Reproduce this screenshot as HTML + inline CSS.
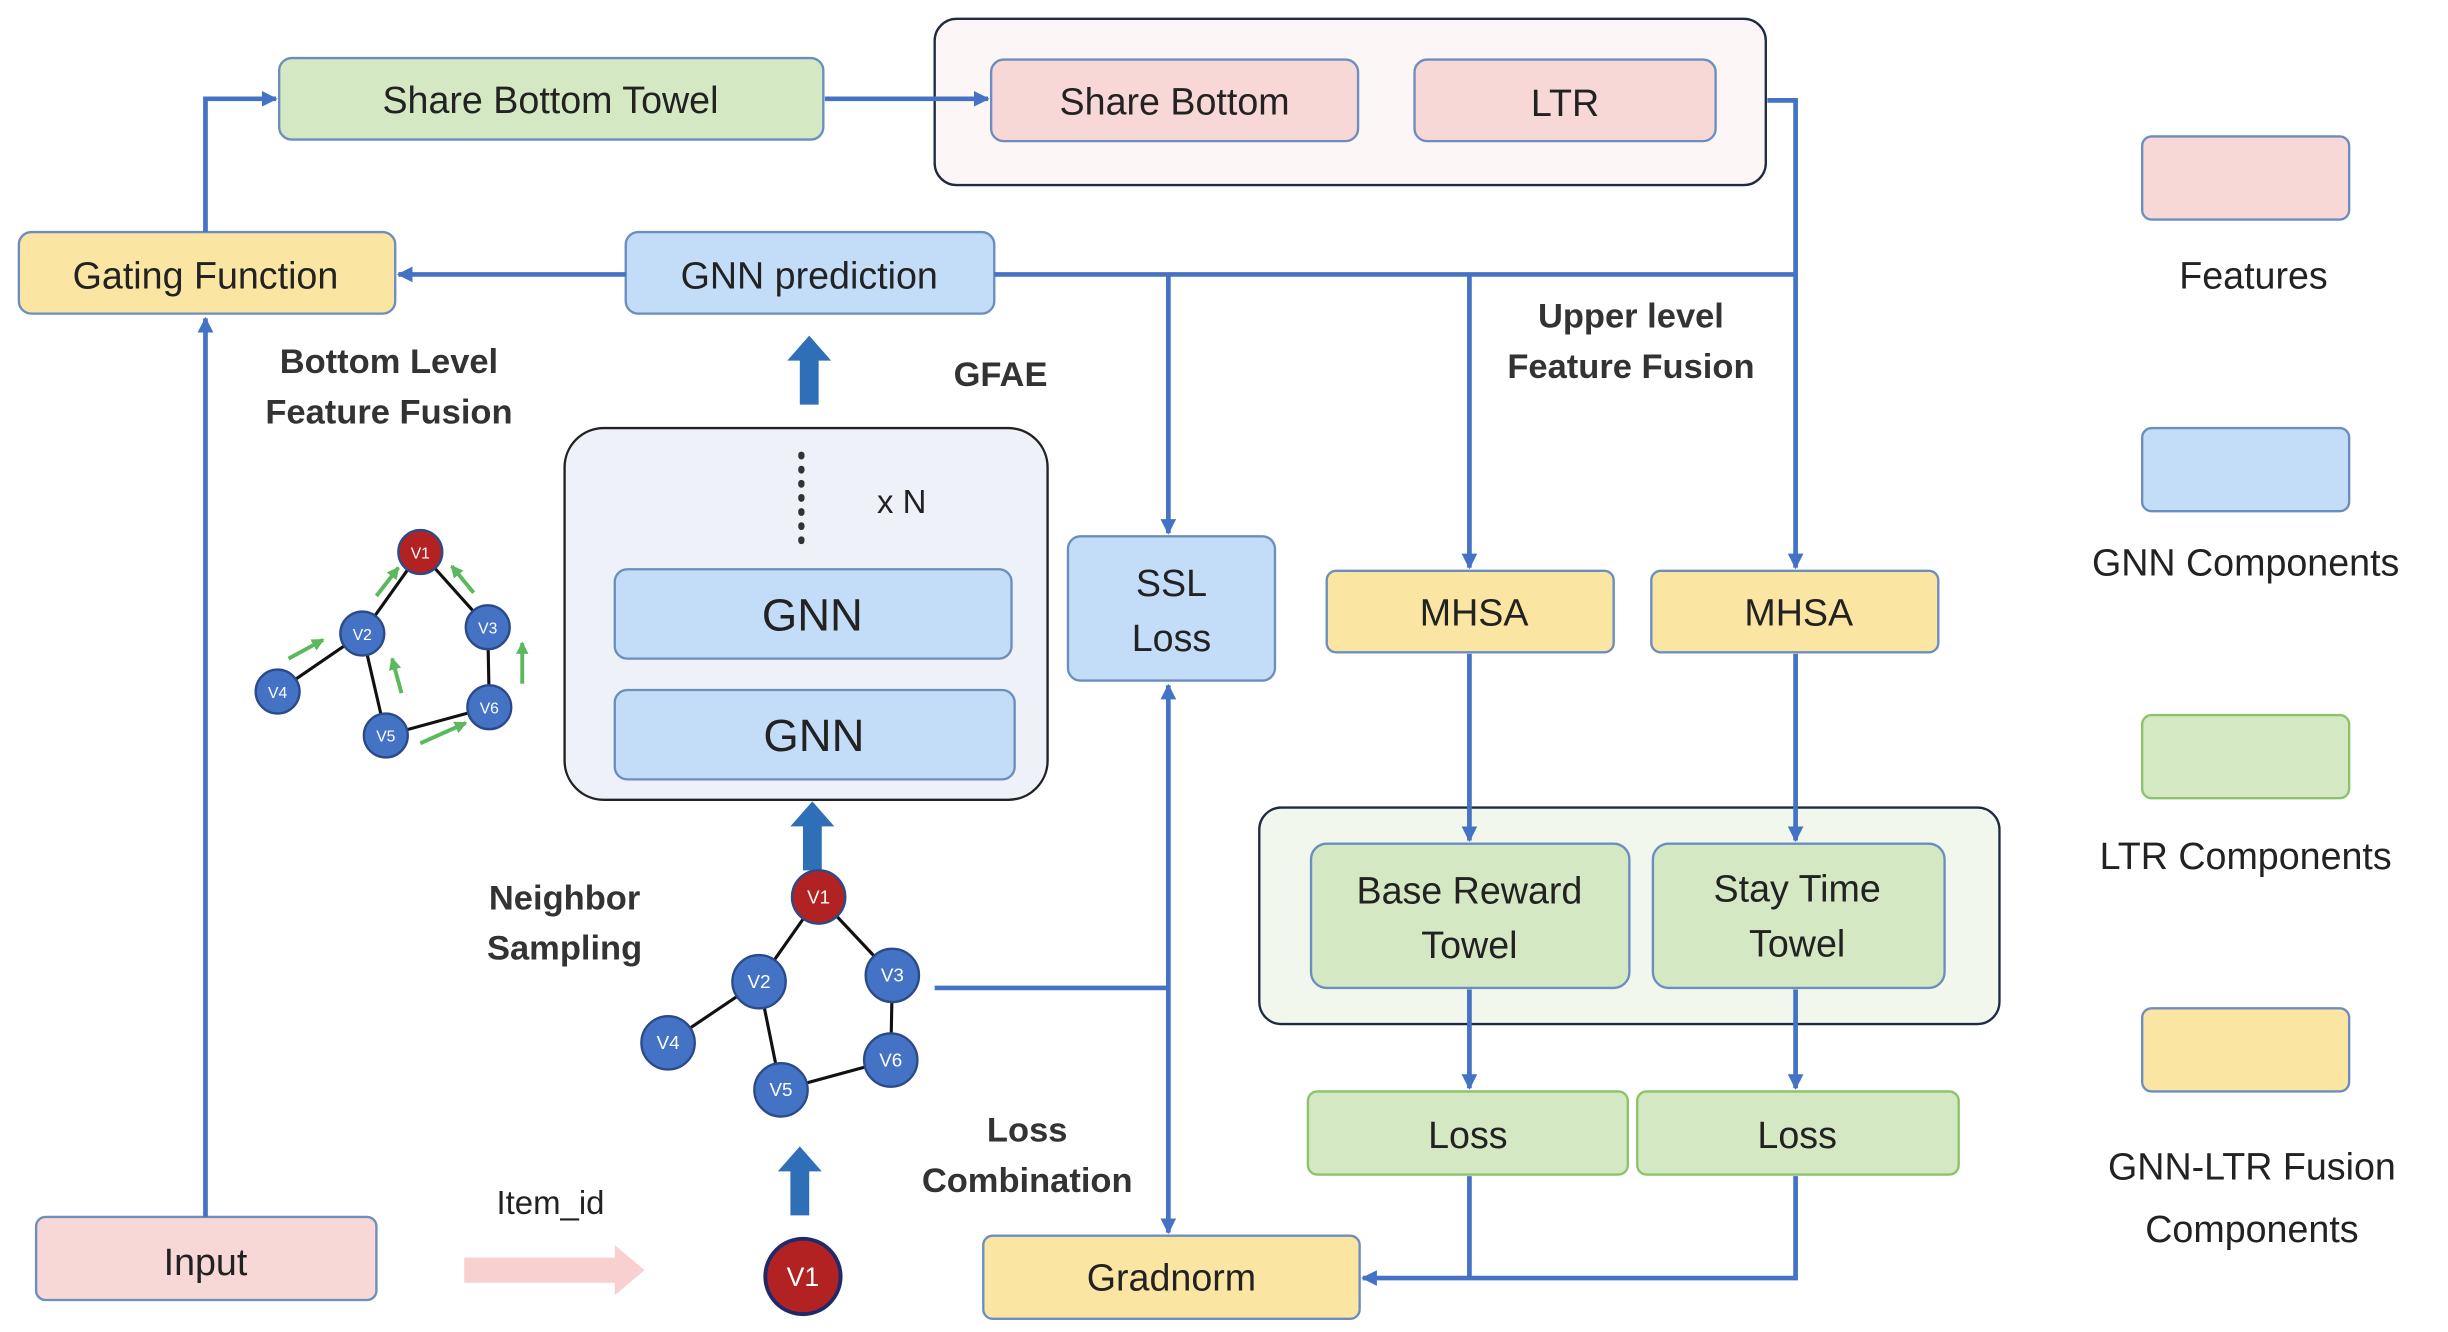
<!DOCTYPE html>
<html><head><meta charset="utf-8"><style>
html,body{margin:0;padding:0;background:#fff;}
svg{display:block;}
text{font-family:"Liberation Sans",sans-serif;}
</style></head><body>
<svg width="2448" height="1332" viewBox="0 0 1561 849.4" xmlns="http://www.w3.org/2000/svg">
<defs>
<marker id="a" markerWidth="10" markerHeight="10" refX="9" refY="5" orient="auto" markerUnits="userSpaceOnUse"><path d="M0,0 L10,5 L0,10 z" fill="#4472c4"/></marker>
<marker id="g" markerWidth="8" markerHeight="8" refX="7" refY="4" orient="auto" markerUnits="userSpaceOnUse"><path d="M0,0 L8,4 L0,8 z" fill="#5cb85c"/></marker>
</defs>
<!-- boxes -->
<g stroke="#6c8ebf" stroke-width="1.5">
<rect x="596" y="12" width="530" height="106" rx="14" fill="#fdf6f6" stroke="#1f2a44"/>
<rect x="178" y="37" width="347" height="52" rx="8" fill="#d5e8c4"/>
<rect x="632" y="38" width="234" height="52" rx="8" fill="#f8d7d7"/>
<rect x="902" y="38" width="192" height="52" rx="8" fill="#f8d7d7"/>
<rect x="12" y="148" width="240" height="52" rx="8" fill="#fbe5a3"/>
<rect x="399" y="148" width="235" height="52" rx="8" fill="#c3dcf8"/>
<rect x="360" y="273" width="308" height="237" rx="25" fill="#eef2f8" stroke="#222"/>
<rect x="392" y="363" width="253" height="57" rx="8" fill="#c3dcf8"/>
<rect x="392" y="440" width="255" height="57" rx="8" fill="#c3dcf8"/>
<rect x="681" y="342" width="132" height="92" rx="8" fill="#c3dcf8"/>
<rect x="846" y="364" width="183" height="52" rx="6" fill="#fbe5a3"/>
<rect x="1053" y="364" width="183" height="52" rx="6" fill="#fbe5a3"/>
<rect x="803" y="515" width="472" height="138" rx="14" fill="#f2f7ee" stroke="#1f2a44"/>
<rect x="836" y="538" width="203" height="92" rx="10" fill="#d5e8c4"/>
<rect x="1054" y="538" width="186" height="92" rx="10" fill="#d5e8c4"/>
<rect x="834" y="696" width="204" height="53" rx="6" fill="#d5e8c4" stroke="#8bc36a"/>
<rect x="1044" y="696" width="205" height="53" rx="6" fill="#d5e8c4" stroke="#8bc36a"/>
<rect x="627" y="788" width="240" height="53" rx="6" fill="#fbe5a3"/>
<rect x="23" y="776" width="217" height="53" rx="6" fill="#f8d7d7"/>
<rect x="1366" y="87" width="132" height="53" rx="6" fill="#f8d7d7"/>
<rect x="1366" y="273" width="132" height="53" rx="6" fill="#c3dcf8"/>
<rect x="1366" y="456" width="132" height="53" rx="6" fill="#d5e8c4" stroke="#8bc36a"/>
<rect x="1366" y="643" width="132" height="53" rx="6" fill="#fbe5a3"/>
</g>
<g fill="none" stroke="#4472c4" stroke-width="3">
<path d="M131,776 V203" marker-end="url(#a)"/>
<path d="M131,148 V63 H176" marker-end="url(#a)"/>
<path d="M526,63 H630" marker-end="url(#a)"/>
<path d="M1127,64 H1145 V362" marker-end="url(#a)"/>
<path d="M1145,175 H634"/>
<path d="M399,175 H254" marker-end="url(#a)"/>
<path d="M745,175 V340" marker-end="url(#a)"/>
<path d="M937,175 V362" marker-end="url(#a)"/>
<path d="M937,417 V536" marker-end="url(#a)"/>
<path d="M1145,417 V536" marker-end="url(#a)"/>
<path d="M937,631 V694" marker-end="url(#a)"/>
<path d="M1145,631 V694" marker-end="url(#a)"/>
<path d="M937,750 V815"/>
<path d="M1145,750 V815 H869" marker-end="url(#a)"/>
<path d="M596,630 H745"/>
<path d="M745,630 V437" marker-end="url(#a)"/>
<path d="M745,630 V786" marker-end="url(#a)"/>
</g>
<!-- thick arrows -->
<g fill="#2e6fb7">
<path d="M510,258 V230 H502 L516,214 L530,230 H522 V258 z"/>
<path d="M512,555 V527 H504 L518,511 L532,527 H524 V555 z"/>
<path d="M504,775 V747 H496 L510,731 L524,747 H516 V775 z"/>
</g>
<path d="M296,802 H392 V794 L411,810 L392,826 V818 H296 z" fill="#f8d0cf"/>
<line x1="511" y1="290" x2="511" y2="352" stroke="#333" stroke-width="4" stroke-dasharray="1,8" stroke-linecap="round"/>
<!-- graphs -->
<g stroke="#111" stroke-width="2" fill="none">
<path d="M268,352 L231,404 L177,441 M231,404 L246,469 L312,451 L311,400 L268,352"/>
<path d="M522,572 L484,626 L426,665 M484,626 L498,695 L568,676 L569,622 L522,572"/>
</g>
<g stroke="#5cb85c" stroke-width="2.5" fill="none">
<path d="M184,420 L206,408" marker-end="url(#g)"/>
<path d="M240,380 L254,362" marker-end="url(#g)"/>
<path d="M302,378 L288,361" marker-end="url(#g)"/>
<path d="M333,436 L333,410" marker-end="url(#g)"/>
<path d="M268,474 L297,461" marker-end="url(#g)"/>
<path d="M256,442 L250,420" marker-end="url(#g)"/>
</g>
<g stroke="#2b4a8a" stroke-width="1.5">
<circle cx="268" cy="352" r="14" fill="#b22222"/>
<circle cx="231" cy="404" r="14" fill="#4472c4"/>
<circle cx="311" cy="400" r="14" fill="#4472c4"/>
<circle cx="177" cy="441" r="14" fill="#4472c4"/>
<circle cx="246" cy="469" r="14" fill="#4472c4"/>
<circle cx="312" cy="451" r="14" fill="#4472c4"/>
<circle cx="522" cy="572" r="17" fill="#b22222"/>
<circle cx="484" cy="626" r="17" fill="#4472c4"/>
<circle cx="569" cy="622" r="17" fill="#4472c4"/>
<circle cx="426" cy="665" r="17" fill="#4472c4"/>
<circle cx="498" cy="695" r="17" fill="#4472c4"/>
<circle cx="568" cy="676" r="17" fill="#4472c4"/>
<circle cx="512" cy="814" r="24" fill="#b22222" stroke="#1f2a6a" stroke-width="2.5"/>
</g>
<g fill="#fff" font-size="10" text-anchor="middle">
<text x="268" y="356">V1</text><text x="231" y="408">V2</text><text x="311" y="404">V3</text>
<text x="177" y="445">V4</text><text x="246" y="473">V5</text><text x="312" y="455">V6</text>
<text x="522" y="576" font-size="12">V1</text><text x="484" y="630" font-size="12">V2</text><text x="569" y="626" font-size="12">V3</text>
<text x="426" y="669" font-size="12">V4</text><text x="498" y="699" font-size="12">V5</text><text x="568" y="680" font-size="12">V6</text>
<text x="512" y="820" font-size="17">V1</text>
</g>
<g fill="#222" font-size="24" text-anchor="middle">
<text x="351" y="72">Share Bottom Towel</text>
<text x="749" y="73">Share Bottom</text>
<text x="998" y="74">LTR</text>
<text x="131" y="184">Gating Function</text>
<text x="516" y="184">GNN prediction</text>
<text x="518" y="402" font-size="29">GNN</text>
<text x="519" y="479" font-size="29">GNN</text>
<text x="747" y="380">SSL</text><text x="747" y="415">Loss</text>
<text x="940" y="399">MHSA</text><text x="1147" y="399">MHSA</text>
<text x="937" y="576">Base Reward</text><text x="937" y="611">Towel</text>
<text x="1146" y="575">Stay Time</text><text x="1146" y="610">Towel</text>
<text x="936" y="732">Loss</text><text x="1146" y="732">Loss</text>
<text x="747" y="823">Gradnorm</text>
<text x="131" y="813">Input</text>
<text x="351" y="774" font-size="21">Item_id</text>
<text x="575" y="327" font-size="21">x N</text>
<text x="1437" y="184">Features</text>
<text x="1432" y="367">GNN Components</text>
<text x="1432" y="554">LTR Components</text>
<text x="1436" y="752">GNN-LTR Fusion</text>
<text x="1436" y="792">Components</text>
</g>
<g fill="#333" font-size="22" font-weight="bold" text-anchor="middle">
<text x="248" y="238">Bottom Level</text><text x="248" y="270">Feature Fusion</text>
<text x="638" y="246">GFAE</text>
<text x="1040" y="209">Upper level</text><text x="1040" y="241">Feature Fusion</text>
<text x="360" y="580">Neighbor</text><text x="360" y="612">Sampling</text>
<text x="655" y="728">Loss</text><text x="655" y="760">Combination</text>
</g>
</svg>
</body></html>
